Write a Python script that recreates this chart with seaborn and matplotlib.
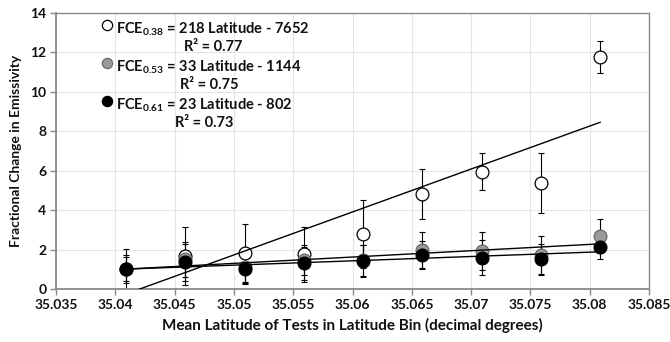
import numpy as np
import pandas as pd
import matplotlib
matplotlib.use("Agg")
import matplotlib.pyplot as plt
import seaborn as sns
from matplotlib.collections import PathCollection
from matplotlib.legend_handler import HandlerPathCollection

# ---- data ----
latitude = [35.0409, 35.0459, 35.0509, 35.0559, 35.0609, 35.0659, 35.0709, 35.0759, 35.0809]
fce_038 = [1.00, 1.67, 1.84, 1.77, 2.78, 4.80, 5.95, 5.36, 11.76]
err_038 = [1.05, 1.46, 1.46, 1.39, 1.74, 1.27, 0.93, 1.52, 0.80]
fce_053 = [1.00, 1.50, 1.10, 1.47, 1.45, 1.98, 1.93, 1.73, 2.69]
err_053 = [0.70, 0.90, 0.80, 0.75, 0.80, 0.93, 0.98, 0.97, 0.85]
fce_061 = [1.01, 1.35, 1.01, 1.30, 1.42, 1.71, 1.59, 1.50, 2.15]
err_061 = [0.60, 0.95, 0.77, 0.84, 0.83, 0.70, 0.90, 0.80, 0.65]
labels = ["FCE$_{0.38}$ = 218 Latitude - 7652\nR² = 0.77",
          "FCE$_{0.53}$ = 33 Latitude - 1144\nR² = 0.75",
          "FCE$_{0.61}$ = 23 Latitude - 802\nR² = 0.73"]
x_ticks = [35.035, 35.04, 35.045, 35.05, 35.055, 35.06, 35.065, 35.07, 35.075, 35.08, 35.085]
y_ticks = [0, 2, 4, 6, 8, 10, 12, 14]

sns.set_theme(style="white")
plt.rcParams["font.family"] = ["Lato", "DejaVu Sans"]
plt.rcParams["font.weight"] = "bold"
plt.rcParams["mathtext.fontset"] = "custom"
plt.rcParams["mathtext.rm"] = "Lato:bold"
plt.rcParams["mathtext.default"] = "rm"

fig = plt.figure(figsize=(6.7, 3.42), dpi=100)
ax = fig.add_axes([56/670, 53/342, (649-56)/670, (289-13)/342])

series = [
    (fce_038, err_038, "white", "black"),
    (fce_053, err_053, "#9a9a9a", "#6a6a6a"),
    (fce_061, err_061, "black", "black"),
]
handles = []
for vals, errs, fc, ec in series:
    ax.errorbar(latitude, vals, yerr=errs, fmt="none", ecolor="black",
                elinewidth=0.8, capsize=2, capthick=0.8, zorder=2)
    h = ax.scatter(latitude, vals, s=85, facecolor=fc, edgecolor=ec,
                   linewidth=0.9, zorder=3)
    handles.append(h)

for vals, errs, fc, ec in series:
    sns.regplot(x=latitude, y=vals, scatter=False, ci=None, truncate=True,
                color="black", line_kws=dict(lw=1.0, zorder=4), ax=ax)

ax.set_xlim(35.035, 35.085)
ax.set_ylim(0, 14)
ax.set_xticks(x_ticks)
ax.set_xticklabels([f"{t:g}" for t in x_ticks])
ax.set_yticks(y_ticks)
ax.grid(True, color="#e4e4e4", lw=0.8)
ax.set_axisbelow(True)
for s in ax.spines.values():
    s.set_color("#8a8a8a")
    s.set_linewidth(1.0)
ax.spines["left"].set_linewidth(1.3)
ax.spines["bottom"].set_linewidth(1.3)
ax.tick_params(axis="both", which="both", direction="out", length=4, width=1,
               color="#8a8a8a", labelsize=10, pad=3, bottom=True, left=True,
               labelcolor="#111111")
for lab in ax.get_xticklabels() + ax.get_yticklabels():
    lab.set_fontweight("bold")

ax.set_xlabel("Mean Latitude of Tests in Latitude Bin (decimal degrees)",
              fontsize=11, fontweight="bold", color="#111111", labelpad=5)
ax.set_ylabel("Fractional Change in Emissivity", fontsize=10,
              fontweight="bold", color="#111111", labelpad=6)

leg = ax.legend(handles, labels, loc="upper left", bbox_to_anchor=(0.066, 0.995),
                frameon=False, fontsize=10.5, handletextpad=0.25, markerscale=0.8,
                handlelength=0.8, labelspacing=0.3, borderaxespad=0,
                handler_map={PathCollection: HandlerPathCollection(yoffsets=[1.7])})
for t in leg.get_texts():
    t.set_multialignment("center")
    t.set_fontweight("bold")
    t.set_color("#111111")

fig.savefig("out.png", dpi=100)
